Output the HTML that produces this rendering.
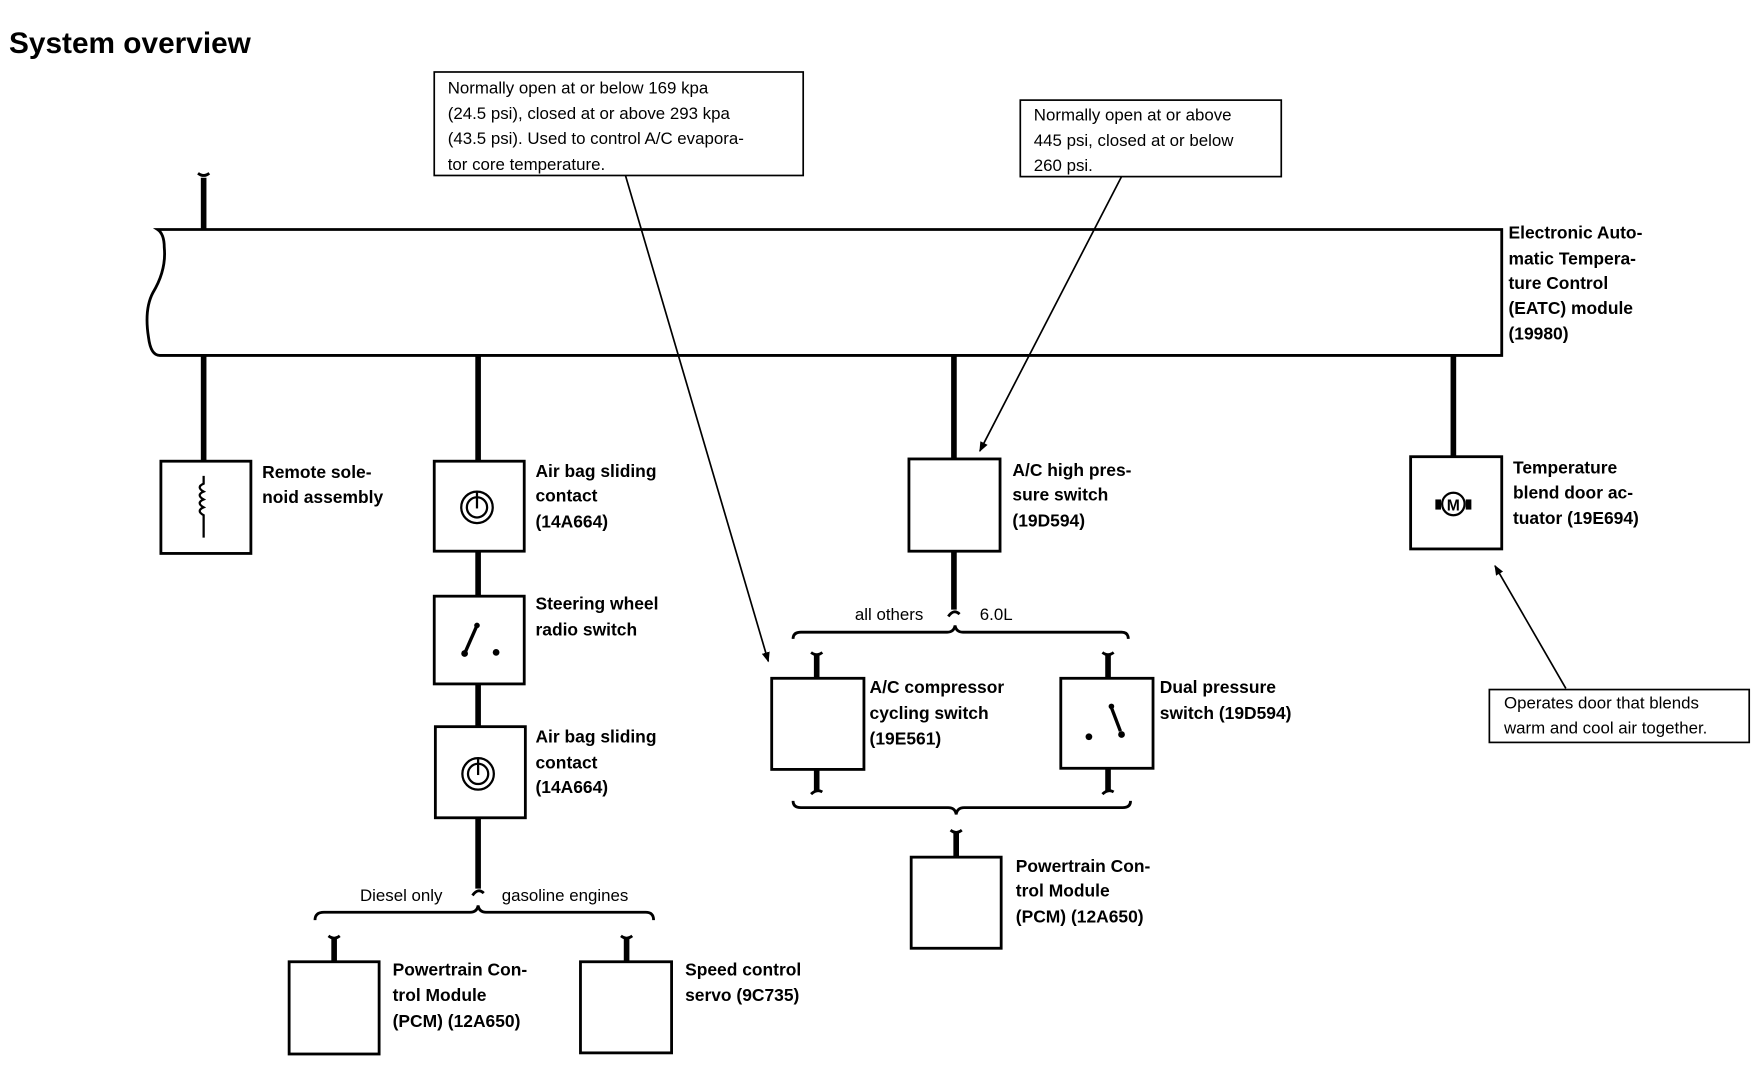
<!DOCTYPE html>
<html><head><meta charset="utf-8"><style>
html,body{margin:0;padding:0;background:#fff;}
svg{display:block;}
text{font-family:"Liberation Sans",Arial,sans-serif;fill:#000;}
.b{font-weight:bold;font-size:15.5px;}
.n{font-size:15px;}
</style></head><body>
<svg width="1756" height="1072" viewBox="0 0 1561 953" xmlns="http://www.w3.org/2000/svg">
<defs>
<marker id="ah" viewBox="0 0 10 10" refX="9" refY="5" markerWidth="9" markerHeight="9" orient="auto-start-reverse" markerUnits="userSpaceOnUse">
<path d="M0,1 L10,5 L0,9 z" fill="#000"/></marker>
<g id="fork"><path d="M-5,-2 Q0,2 5,-2" fill="none" stroke="#000" stroke-width="2.5"/></g>
</defs>
<text x="8" y="47" style="font-weight:bold;font-size:26.5px">System overview</text>

<rect x="386" y="64" width="328" height="92" fill="none" stroke="#000" stroke-width="1.5"/>
<text class="n" x="398" y="83">Normally open at or below 169 kpa</text>
<text class="n" x="398" y="106">(24.5 psi), closed at or above 293 kpa</text>
<text class="n" x="398" y="128">(43.5 psi). Used to control A/C evapora-</text>
<text class="n" x="398" y="151">tor core temperature.</text>
<rect x="907" y="89" width="232" height="68" fill="none" stroke="#000" stroke-width="1.5"/>
<text class="n" x="919" y="107">Normally open at or above</text>
<text class="n" x="919" y="130">445 psi, closed at or below</text>
<text class="n" x="919" y="152">260 psi.</text>

<path d="M140,204 H1335 V316 H142 Q134,316 132,300 Q128,275 136,260 Q148,240 146,220 Q146,208 140,204 Z" fill="none" stroke="#000" stroke-width="2.5"/>
<text class="b" x="1341" y="212">Electronic Auto-</text>
<text class="b" x="1341" y="235">matic Tempera-</text>
<text class="b" x="1341" y="257">ture Control</text>
<text class="b" x="1341" y="279">(EATC) module</text>
<text class="b" x="1341" y="302">(19980)</text>

<g stroke="#000" stroke-width="5" fill="none">
<line x1="181" y1="158" x2="181" y2="204"/>
<line x1="181" y1="316" x2="181" y2="410"/>
<line x1="425" y1="316" x2="425" y2="410"/>
<line x1="425" y1="490" x2="425" y2="530"/>
<line x1="425" y1="608" x2="425" y2="646"/>
<line x1="425" y1="727" x2="425" y2="790"/>
<line x1="848" y1="316" x2="848" y2="408"/>
<line x1="848" y1="490" x2="848" y2="542"/>
<line x1="1292" y1="316" x2="1292" y2="406"/>
<line x1="297" y1="834" x2="297" y2="855"/>
<line x1="557" y1="834" x2="557" y2="855"/>
<line x1="726" y1="582" x2="726" y2="603"/>
<line x1="726" y1="684" x2="726" y2="703"/>
<line x1="985" y1="582" x2="985" y2="603"/>
<line x1="985" y1="683" x2="985" y2="703"/>
<line x1="850" y1="740" x2="850" y2="762"/>
</g>
<g>
<use href="#fork" x="181" y="156"/>
<use href="#fork" x="297" y="834"/>
<use href="#fork" x="557" y="834"/>
<use href="#fork" x="726" y="582"/>
<use href="#fork" x="985" y="582"/>
<use href="#fork" x="850" y="740"/>
<path d="M721,706 Q726,701 731,704 M980,706 Q985,701 990,704 M420,796 Q425,789 430,794 M843,548 Q848,541 853,546" fill="none" stroke="#000" stroke-width="2.5"/>
</g>

<g fill="none" stroke="#000" stroke-width="2.5">
<rect x="143" y="410" width="80" height="82"/>
<rect x="386" y="410" width="80" height="80"/>
<rect x="386" y="530" width="80" height="78"/>
<rect x="387" y="646" width="80" height="81"/>
<rect x="257" y="855" width="80" height="82"/>
<rect x="516" y="855" width="81" height="81"/>
<rect x="808" y="408" width="81" height="82"/>
<rect x="686" y="603" width="82" height="81"/>
<rect x="943" y="603" width="82" height="80"/>
<rect x="810" y="762" width="80" height="81"/>
<rect x="1254" y="406" width="81" height="82"/>
<path d="M280,818 Q280,811 288,811 H418 Q424,811 425,805 Q426,811 432,811 H574 Q581,811 581,818"/>
<path d="M705,568 Q705,562 712,562 H842 Q848,562 849,556 Q850,562 856,562 H997 Q1003,562 1003,568"/>
<path d="M705,712 Q705,718 712,718 H843 Q849,718 850,724 Q851,718 857,718 H998 Q1005,718 1005,712"/>
</g>
<path d="M181,423 V430 Q174,433 181,437 Q174,440 181,444 Q174,447 181,451 Q174,454 181,458 V478" fill="none" stroke="#000" stroke-width="2"/>
<g fill="none" stroke="#000" stroke-width="2">
<circle cx="424" cy="451" r="9"/><circle cx="424" cy="451" r="14"/><path d="M424,437 V452"/>
<circle cx="425" cy="688" r="9"/><circle cx="425" cy="688" r="14"/><path d="M425,674 V689"/>
</g>
<g stroke="#000" stroke-width="3"><line x1="424" y1="556" x2="413" y2="581"/><line x1="988" y1="629" x2="996" y2="650"/></g>
<g fill="#000"><circle cx="413" cy="581" r="3"/><circle cx="424" cy="556" r="2.5"/><circle cx="441" cy="580" r="3"/>
<circle cx="968" cy="655" r="3"/><circle cx="997" cy="653" r="3"/><circle cx="988" cy="628" r="2.5"/></g>
<circle cx="1292" cy="448" r="10" fill="none" stroke="#000" stroke-width="2"/>
<rect x="1276" y="444" width="5" height="9"/><rect x="1303" y="444" width="5" height="9"/>
<text x="1292" y="454" text-anchor="middle" style="font-size:14px;font-weight:bold">M</text>

<text class="b" x="233" y="425">Remote sole-</text>
<text class="b" x="233" y="447">noid assembly</text>
<text class="b" x="476" y="424">Air bag sliding</text>
<text class="b" x="476" y="446">contact</text>
<text class="b" x="476" y="469">(14A664)</text>
<text class="b" x="476" y="542">Steering wheel</text>
<text class="b" x="476" y="565">radio switch</text>
<text class="b" x="476" y="660">Air bag sliding</text>
<text class="b" x="476" y="683">contact</text>
<text class="b" x="476" y="705">(14A664)</text>
<text class="n" x="320" y="801">Diesel only</text>
<text class="n" x="446" y="801">gasoline engines</text>
<text class="b" x="349" y="867">Powertrain Con-</text>
<text class="b" x="349" y="890">trol Module</text>
<text class="b" x="349" y="913">(PCM) (12A650)</text>
<text class="b" x="609" y="867">Speed control</text>
<text class="b" x="609" y="890">servo (9C735)</text>
<text class="b" x="900" y="423">A/C high pres-</text>
<text class="b" x="900" y="445">sure switch</text>
<text class="b" x="900" y="468">(19D594)</text>
<text class="n" x="760" y="551">all others</text>
<text class="n" x="871" y="551">6.0L</text>
<text class="b" x="773" y="616">A/C compressor</text>
<text class="b" x="773" y="639">cycling switch</text>
<text class="b" x="773" y="662">(19E561)</text>
<text class="b" x="1031" y="616">Dual pressure</text>
<text class="b" x="1031" y="639">switch (19D594)</text>
<text class="b" x="903" y="775">Powertrain Con-</text>
<text class="b" x="903" y="797">trol Module</text>
<text class="b" x="903" y="820">(PCM) (12A650)</text>
<text class="b" x="1345" y="421">Temperature</text>
<text class="b" x="1345" y="443">blend door ac-</text>
<text class="b" x="1345" y="466">tuator (19E694)</text>

<rect x="1324" y="613" width="231" height="47" fill="none" stroke="#000" stroke-width="1.5"/>
<text class="n" x="1337" y="630">Operates door that blends</text>
<text class="n" x="1337" y="652">warm and cool air together.</text>

<g stroke="#000" stroke-width="1.5" fill="none">
<line x1="556" y1="156" x2="683" y2="588" marker-end="url(#ah)"/>
<line x1="997" y1="157" x2="871" y2="401" marker-end="url(#ah)"/>
<line x1="1392" y1="612" x2="1329" y2="503" marker-end="url(#ah)"/>
</g>
</svg>
</body></html>
